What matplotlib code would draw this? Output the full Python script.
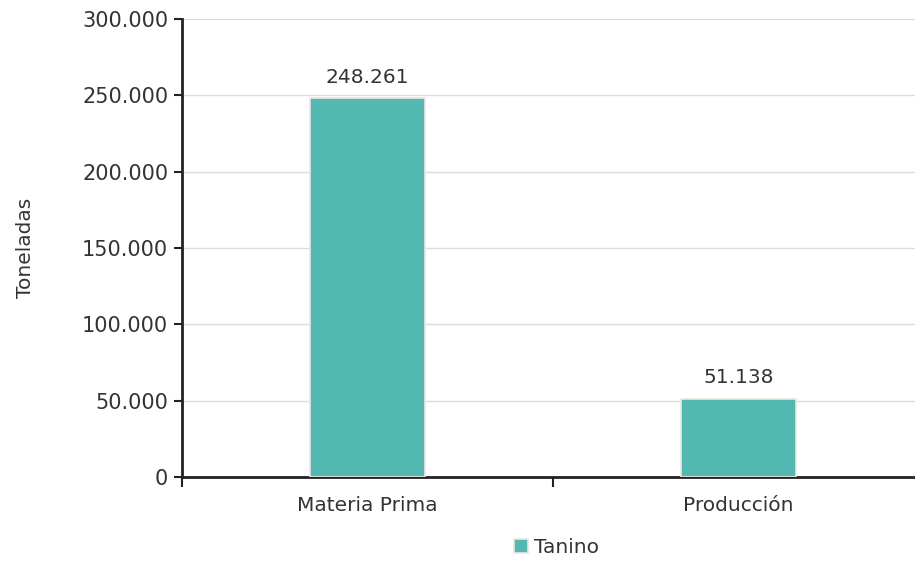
import matplotlib
matplotlib.use("Agg")
import matplotlib.pyplot as plt
from matplotlib.ticker import FuncFormatter

categorias = ["Materia Prima", "Producción"]
toneladas = [248261, 51138]
serie = "Tanino"

plt.rcParams['font.family'] = ['DejaVu Sans']

def miles(v, pos=None):
    return f"{int(round(v)):,}".replace(",", ".")

fig = plt.figure(figsize=(9.15, 5.61), dpi=100)
ax = fig.add_axes([0.199, 0.150, 0.811, 0.816])

x = list(range(len(categorias)))
bars = ax.bar(x, toneladas, width=0.31, color="#52b8b1", edgecolor="#ece8dc",
              linewidth=1.2, label=serie, zorder=3)

for b, v in zip(bars, toneladas):
    ax.text(b.get_x() + b.get_width() / 2, v + 7500, miles(v),
            ha="center", va="bottom", fontsize=14.5, color="#333333")

ax.set_xlim(-0.5, 1.5)
ax.set_ylim(0, 300000)
ax.set_yticks(range(0, 300001, 50000))
ax.yaxis.set_major_formatter(FuncFormatter(miles))
ax.set_xticks(x)
ax.set_xticklabels(categorias)
ax.set_xticks([-0.5, 0.5, 1.5], minor=True)
ax.tick_params(axis="x", which="major", length=0, pad=14, labelsize=14.5, labelcolor="#333333")
ax.tick_params(axis="x", which="minor", length=7, width=1.5, color="#222222")
ax.tick_params(axis="y", length=6, width=1.5, color="#222222", labelsize=15,
               labelcolor="#333333", pad=4)

ax.grid(axis="y", color="#dddddd", linewidth=1, zorder=0)
for s in ["top", "right"]:
    ax.spines[s].set_visible(False)
for s in ["left", "bottom"]:
    ax.spines[s].set_color("#222222")
    ax.spines[s].set_linewidth(2)

ax.set_ylabel("Toneladas", fontsize=14.5, color="#333333", labelpad=34)

leg = ax.legend(loc="upper center", bbox_to_anchor=(0.505, -0.095), frameon=False,
                fontsize=14.5, handlelength=0.7, handleheight=0.7, handletextpad=0.3)
for t in leg.get_texts():
    t.set_color("#333333")

fig.savefig("out.png", dpi=100)
